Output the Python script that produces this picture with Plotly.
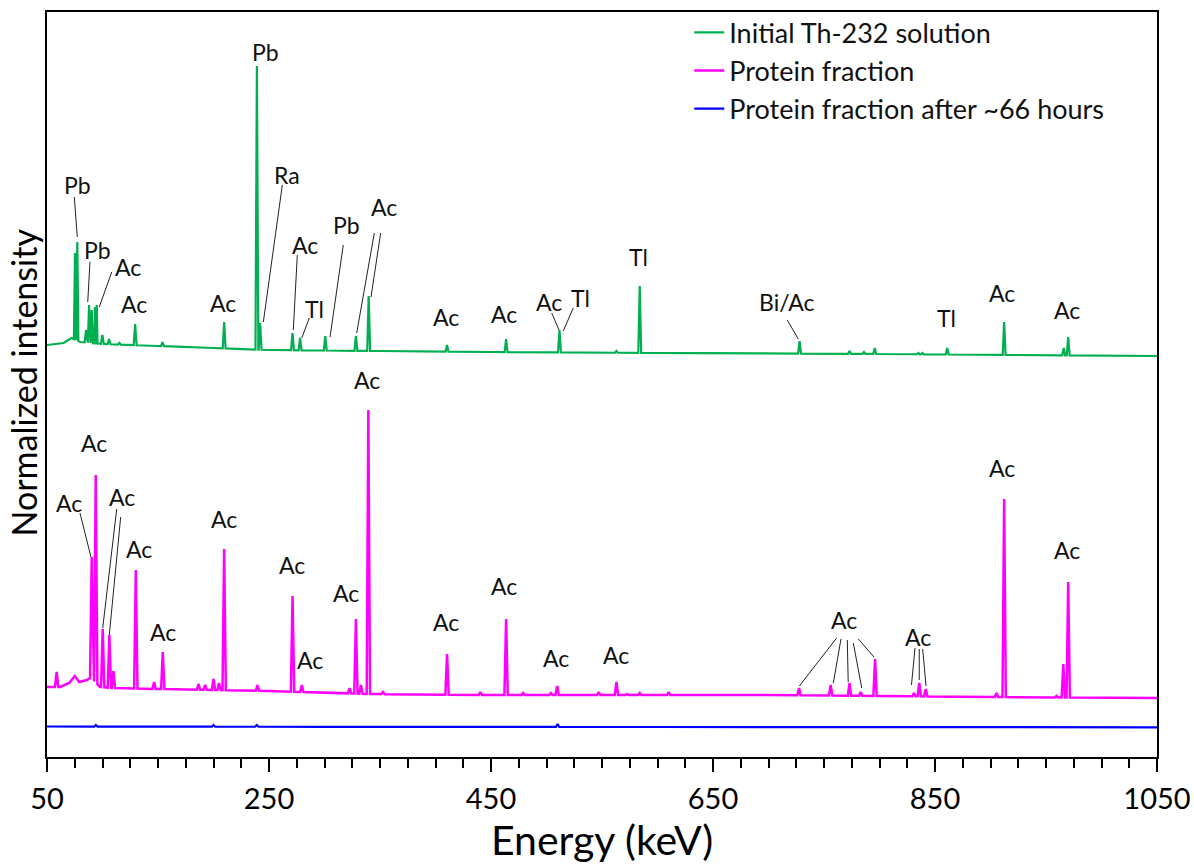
import numpy as np
import plotly.graph_objects as go

FONT = "Lato"

# ---------------- data (energy in keV, intensity in arbitrary normalized units) -------------
# Initial Th-232 solution (green)
green_base_E = [50, 65, 72, 80, 100, 150, 200, 250, 350, 450, 600, 800, 1050]
green_base_I = [412, 414, 419, 415, 413, 411, 409, 407, 406, 405, 404, 403, 401]
green_pk_E = [75.2, 77.3, 85.2, 87.9, 90.3, 93.3, 94.8, 99.9, 105.9, 115.2, 129.4, 154.0,
              209.6, 239.1, 242.0, 271.2, 278.0, 300.7, 328.3, 339.8, 410.4, 463.6, 511.7,
              563.0, 584.0, 728.0, 773.0, 786.0, 795.7, 835.0, 838.7, 861.0, 912.3, 966.0, 970.0]
green_pk_I = [504, 515, 427, 452, 447, 450, 452, 422, 418, 414, 433, 415,
              435, 691, 434, 424, 419, 421, 421, 461, 412, 418, 427,
              406, 471, 416, 406, 405, 409, 404, 404, 409, 435, 409, 420]

# Protein fraction (magenta)
mag_base_E = [50, 62, 70, 75, 79, 86, 89, 98, 110, 150, 250, 340, 450, 700, 800, 900, 1050]
mag_base_I = [70, 70, 74, 81, 75, 77, 79, 70, 69, 68, 66, 63, 62, 62, 61, 60, 59]
mag_pk_E = [58.7, 90.3, 93.9, 100.2, 106.2, 109.8, 130.0, 146.5, 154.3, 186.5, 192.5, 200.0,
            205.0, 209.6, 239.6, 271.2, 279.6, 322.6, 328.3, 332.8, 339.5, 352.7, 410.4,
            440.4, 463.6, 479.0, 504.0, 509.6, 547.0, 563.0, 572.7, 584.0, 610.0, 727.5,
            756.0, 773.0, 783.0, 796.0, 831.0, 835.8, 841.7, 905.4, 912.3, 959.5, 965.6, 970.0]
mag_pk_I = [85, 200, 282, 128, 122, 86, 187, 75, 105, 73, 72, 78,
            74, 208, 72, 161, 72, 69, 138, 72, 347, 65, 103,
            65, 138, 64, 64, 71, 65, 75, 63, 64, 65, 69,
            72, 74, 65, 98, 64, 74, 68, 64, 258, 61, 93, 175]

# Protein fraction after ~66 hours (blue)
blue_base_E = [50, 300, 600, 1050]
blue_base_I = [30.5, 30.2, 30.0, 29.7]
blue_pk_E = [94.0, 200.0, 239.0, 510.0]
blue_pk_I = [32, 32, 32, 33]

series_names = ["Initial Th-232 solution", "Protein fraction",
                "Protein fraction after ~66 hours"]
series_colors = ["#00B050", "#FF00FF", "#0000FF"]

# peak labels: (text, energy, intensity)
labels = [
    ("Pb", 246.4, 705), ("Pb", 77.3, 572), ("Pb", 95.9, 507), ("Ac", 123.0, 490),
    ("Ac", 128.6, 453), ("Ac", 208.8, 454), ("Ra", 266.0, 582), ("Ac", 282.4, 512),
    ("Tl", 291.4, 448), ("Pb", 319.4, 532), ("Ac", 353.6, 550), ("Ac", 409.2, 440),
    ("Ac", 461.7, 443), ("Ac", 502.5, 455), ("Tl", 530.2, 459), ("Tl", 582.7, 500),
    ("Bi/Ac", 716.7, 455), ("Tl", 860.5, 439), ("Ac", 910.1, 464), ("Ac", 968.6, 447),
    ("Ac", 70.1, 254), ("Ac", 92.6, 314), ("Ac", 117.3, 260), ("Ac", 133.2, 208),
    ("Ac", 154.2, 125), ("Ac", 209.7, 238), ("Ac", 270.5, 192), ("Ac", 286.9, 97),
    ("Ac", 319.4, 164), ("Ac", 338.3, 377), ("Ac", 409.5, 135), ("Ac", 462.0, 171),
    ("Ac", 508.3, 99), ("Ac", 562.3, 102), ("Ac", 768.0, 137), ("Ac", 834.9, 120),
    ("Ac", 910.1, 289), ("Ac", 968.6, 207),
]
# leader lines: (E0, I0, E1, I1)
leaders = [
    (74.6, 560, 77.3, 520), (88.7, 495, 86.7, 455), (108.3, 485, 97.1, 450),
    (262.0, 572, 244.9, 435), (275.5, 502, 271.9, 427), (286.3, 439, 279.5, 419),
    (316.9, 512, 305.0, 420), (344.9, 524, 329.0, 424), (350.6, 524, 341.9, 460),
    (504.7, 444, 511.3, 427), (524.1, 449, 515.1, 426), (716.9, 437, 726.8, 418),
    (79.7, 244, 89.6, 200), (112.8, 248, 100.2, 129), (116.4, 240, 106.1, 122),
    (761.4, 119, 727.8, 71), (765.3, 118, 758.4, 74), (771.0, 117, 771.8, 75),
    (776.4, 114, 784.0, 69), (780.9, 118, 795.0, 100),
    (832.0, 109, 828.8, 72), (835.8, 108, 835.8, 77), (838.9, 108, 841.9, 71),
]


def build(base_E, base_I, pk_E, pk_I, hw):
    base_E = np.asarray(base_E, float)
    base_I = np.asarray(base_I, float)
    order = np.argsort(pk_E)
    E = np.asarray(pk_E, float)[order]
    I = np.asarray(pk_I, float)[order]
    pts = []
    windows = []
    for i in range(len(E)):
        w = hw
        if i > 0:
            w = min(w, (E[i] - E[i - 1]) / 2.2)
        if i < len(E) - 1:
            w = min(w, (E[i + 1] - E[i]) / 2.2)
        l, r = E[i] - w, E[i] + w
        windows.append((l, r))
        pts.append((l, float(np.interp(l, base_E, base_I))))
        pts.append((E[i], I[i]))
        pts.append((r, float(np.interp(r, base_E, base_I))))
    for e, v in zip(base_E, base_I):
        if not any(l <= e <= r for l, r in windows):
            pts.append((e, v))
    pts.sort(key=lambda p: p[0])
    return [p[0] for p in pts], [p[1] for p in pts]


fig = go.Figure()
data = [
    (green_base_E, green_base_I, green_pk_E, green_pk_I, 1.3, 2.2),
    (mag_base_E, mag_base_I, mag_pk_E, mag_pk_I, 1.5, 2.5),
    (blue_base_E, blue_base_I, blue_pk_E, blue_pk_I, 1.5, 2.2),
]
for k, (bE, bI, pE, pI, hw, lw) in enumerate(data):
    x, y = build(bE, bI, pE, pI, hw)
    fig.add_trace(go.Scatter(
        x=x, y=y, mode="lines", name=series_names[k], legendgroup=f"g{k}",
        line=dict(color=series_colors[k], width=lw),
    ))

for t, e, v in labels:
    fig.add_annotation(x=e, y=v, text=t, showarrow=False, xref="x", yref="y",
                       font=dict(family=FONT, size=23, color="#111111"))

for e0, v0, e1, v1 in leaders:
    fig.add_shape(type="line", x0=e0, y0=v0, x1=e1, y1=v1, xref="x", yref="y",
                  line=dict(color="#222222", width=1))

fig.add_annotation(x=-24 / 1110, y=0.5027, xref="paper", yref="paper",
                   text="Normalized intensity", textangle=-90, showarrow=False,
                   xanchor="center", yanchor="middle", borderpad=0,
                   font=dict(family=FONT, size=34, color="black"))

fig.update_layout(
    width=1194, height=867,
    margin=dict(l=47, r=37, t=12, b=110, autoexpand=False),
    paper_bgcolor="white", plot_bgcolor="white",
    font=dict(family=FONT, color="black"),
    showlegend=True,
    legend=dict(x=0.5786, y=1.005, xanchor="left", yanchor="top",
                bgcolor="rgba(0,0,0,0)", font=dict(family=FONT, size=27, color="#111111"),
                tracegroupgap=0),
    xaxis=dict(
        range=[50, 1050], tickvals=[50, 250, 450, 650, 850, 1050],
        ticks="outside", ticklen=13, tickwidth=2, tickcolor="black",
        showline=True, linewidth=2, linecolor="black", mirror=True,
        showgrid=False, zeroline=False, automargin=False,
        tickfont=dict(family=FONT, size=29, color="black"),
        ticklabelstandoff=2,
        minor=dict(dtick=25, tick0=50, ticks="outside", ticklen=9, tickwidth=2,
                   tickcolor="black", showgrid=False),
        title=dict(text="Energy (keV)", font=dict(family=FONT, size=41, color="black"),
                   standoff=13),
    ),
    yaxis=dict(
        range=[0, 745], showticklabels=False, ticks="", automargin=False,
        showline=True, linewidth=2, linecolor="black", mirror=True,
        showgrid=False, zeroline=False,
    ),
)

fig.write_html("out.html")
